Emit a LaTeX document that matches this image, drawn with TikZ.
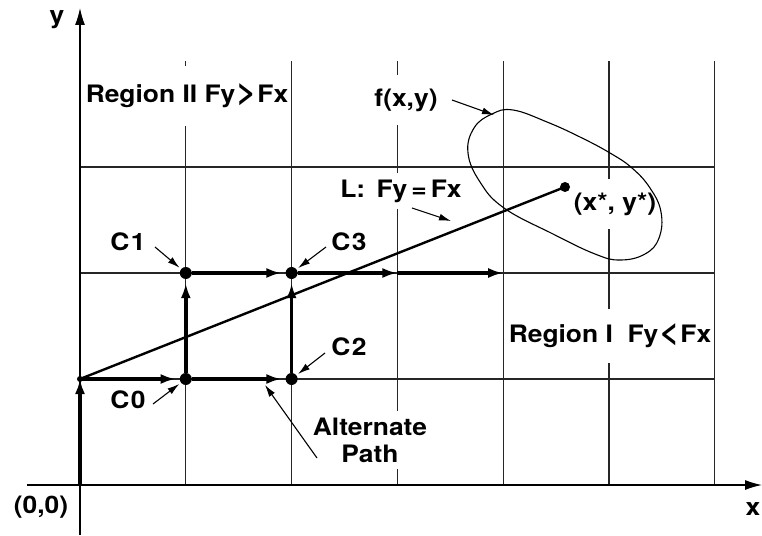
\documentclass[tikz,border=0pt]{standalone}
\usepackage{fontspec}
\setmainfont{TeX Gyre Heros}[FakeStretch=1.1]
\usetikzlibrary{arrows.meta}
\newcommand{\bigrel}[1]{\scalebox{1.3}{#1}}
\begin{document}
\begin{tikzpicture}[x=1pt,y=-1pt,
  gridline/.style={line width=1.1pt, black!85},
  axisline/.style={line width=1.3pt},
  thickp/.style={line width=3.4pt, -{Latex[length=15pt,width=10pt]}, shorten >=4pt},
  ann/.style={line width=1.1pt, -{Latex[length=12pt,width=7pt]}},
  lbl/.style={font=\bfseries\fontsize{24}{27}\selectfont, inner sep=1pt},
  masklbl/.style={lbl, fill=white},
  dot/.style={circle, fill, inner sep=0pt, minimum size=12pt}]
\useasboundingbox (0,0) rectangle (762,535);
% grid
\foreach \i in {0,...,6} {\draw[gridline] ({80+105.8*\i},61) -- ({80+105.8*\i},485);}
\foreach \j in {0,...,3} {\draw[gridline] (80,{485-106*\j}) -- (714.8,{485-106*\j});}
% axes
\coordinate (yb) at (80,535);
\coordinate (yt) at (80,8);
\coordinate (xl) at (27,485);
\coordinate (xr) at (762,485);
\draw[axisline, -{Latex[length=17pt,width=10pt]}] (yb) -- (yt);
\draw[axisline, -{Latex[length=17pt,width=10pt]}] (xl) -- (xr);
% labels with white masks
\node[lbl] (ylab) at (57,20) {y};
\node[lbl] (xlab) at (753,509) {x};
\node[lbl] (olab) at (41,507) {(0,0)};
\node[masklbl, minimum height=60pt] (r2) at (187,96) {Region II Fy\kern1pt\bigrel{>}\kern1ptFx};
\node[masklbl, minimum height=50pt] (flab) at (406,100) {f(x,y)};
\node[masklbl, minimum height=36pt] (llab) at (401,191) {L:\,\ Fy\,=\,Fx};
\node[masklbl, minimum height=50pt] (slab) at (615,204) {(x*, y*)};
\node[masklbl, minimum height=54pt] (r1) at (610,336) {Region I\ \ Fy\kern1pt\bigrel{<}\kern1ptFx};
\node[masklbl, align=center, minimum height=58pt] (alab) at (370,440) {Alternate\\Path};
\node[lbl] (c1lab) at (128,242) {C\kern1.5pt1};
\node[lbl] (c3lab) at (349,242) {C\kern1.5pt3};
\node[lbl] (c2lab) at (349,347) {C\kern1.5pt2};
\node[lbl] (c0lab) at (128,400) {C\kern1.5pt0};
% ellipse f(x,y)
\draw[line width=1.1pt] plot[smooth cycle, tension=0.7] coordinates {(513,110) (547,122) (580,137) (610,153) (632,168) (650,188) (661,212) (659,238) (645,254) (620,260) (595,254) (553,234) (504,208) (480,182) (468,153) (474,128) (492,114)};
% points
\coordinate (O) at (80,485);
\node[dot, minimum size=6pt] (P0) at (80,379) {};
\node[dot] (C0) at (185.8,379) {};
\node[dot] (C1) at (185.8,273) {};
\node[dot] (C2) at (291.6,379) {};
\node[dot] (C3) at (291.6,273) {};
\coordinate (M) at (397.4,273);
\coordinate (E) at (503.2,273);
\node[dot, minimum size=10pt] (S) at (565,187) {};
% line L
\draw[line width=2.4pt] (P0.center) -- (S.center);
% thick path
\draw[thickp, shorten >=0pt] (O) -- (P0.center);
\draw[thickp] (P0.center) -- (C0);
\draw[thickp] (C0) -- (C2);
\draw[thickp] (C0) -- (C1);
\draw[thickp] (C2) -- (C3);
\draw[thickp] (C1) -- (C3);
\draw[thickp, shorten >=0pt] (C3) -- (M);
\draw[thickp, shorten >=0pt] (M) -- (E);
% annotation arrows
\coordinate (a1) at (155,247);
\coordinate (a3) at (326,247);
\coordinate (a2) at (325,353);
\coordinate (a0) at (153,404);
\coordinate (aa) at (317,458);
\coordinate (aat) at (265,385);
\coordinate (af) at (452,100);
\coordinate (aft) at (494,115);
\coordinate (al) at (412,208);
\coordinate (alt) at (451,221);
\draw[ann, shorten >=2pt] (a1) -- (C1);
\draw[ann, shorten >=2pt] (a3) -- (C3);
\draw[ann, shorten >=2pt] (a2) -- (C2);
\draw[ann, shorten >=2pt] (a0) -- (C0);
\draw[ann] (aa) -- (aat);
\draw[ann] (af) -- (aft);
\draw[ann] (al) -- (alt);
\end{tikzpicture}
\end{document}
